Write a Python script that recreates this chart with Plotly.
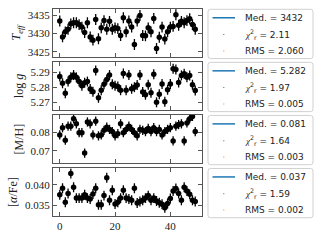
import numpy as np
import plotly.graph_objects as go
from plotly.subplots import make_subplots

# ---------------- data ----------------
epoch = list(range(50))

teff = [3433.5, 3429.1, 3430.5, 3431.2, 3432.7, 3433.0, 3433.0, 3432.5, 3431.8, 3430.3,
        3433.0, 3429.1, 3428.2, 3433.9, 3428.6, 3431.6, 3433.6, 3431.2, 3433.4, 3431.2,
        3431.6, 3431.4, 3429.5, 3434.4, 3430.5, 3433.5, 3431.8, 3427.0, 3433.5, 3435.0,
        3429.5, 3429.4, 3431.6, 3430.5, 3434.2, 3425.9, 3429.0, 3431.8, 3428.5, 3430.5,
        3431.8, 3432.0, 3435.2, 3432.3, 3433.4, 3433.0, 3433.6, 3434.1, 3432.5, 3431.2]

logg = [5.2870, 5.2826, 5.2760, 5.2837, 5.2865, 5.2880, 5.2865, 5.2837, 5.2810, 5.2830,
        5.2837, 5.2788, 5.2770, 5.2910, 5.2730, 5.2780, 5.2820, 5.2850, 5.2880, 5.2820,
        5.2810, 5.2805, 5.2780, 5.2890, 5.2780, 5.2880, 5.2790, 5.2800, 5.2815, 5.2880,
        5.2768, 5.2750, 5.2816, 5.2763, 5.2885, 5.2700, 5.2753, 5.2821, 5.2704, 5.2783,
        5.2821, 5.2922, 5.2917, 5.2831, 5.2878, 5.2888, 5.2866, 5.2878, 5.2816, 5.2778]

mh = [0.0786, 0.0825, 0.0758, 0.0833, 0.0833, 0.0874, 0.0846, 0.0798, 0.0798, 0.0688,
      0.0856, 0.0846, 0.0786, 0.0860, 0.0781, 0.0786, 0.0811, 0.0828, 0.0816, 0.0804,
      0.0781, 0.0793, 0.0846, 0.0798, 0.0816, 0.0833, 0.0816, 0.0798, 0.0781, 0.0816,
      0.0811, 0.0804, 0.0821, 0.0804, 0.0825, 0.0804, 0.0816, 0.0786, 0.0804, 0.0816,
      0.0825, 0.0754, 0.0833, 0.0842, 0.0846, 0.0754, 0.0851, 0.0874, 0.0886, 0.0804]

afe = [0.0376, 0.0392, 0.0358, 0.0379, 0.0427, 0.0394, 0.0368, 0.0368, 0.0368, 0.0376,
       0.0368, 0.0366, 0.0378, 0.0392, 0.0352, 0.0352, 0.0374, 0.0417, 0.0363, 0.0387,
       0.0354, 0.0358, 0.0368, 0.0387, 0.0368, 0.0366, 0.0363, 0.0392, 0.0356, 0.0360,
       0.0363, 0.0368, 0.0374, 0.0363, 0.0368, 0.0361, 0.0357, 0.0353, 0.0345, 0.0355,
       0.0367, 0.0385, 0.0391, 0.0379, 0.0363, 0.0394, 0.0385, 0.0377, 0.0363, 0.0360]

errors = [1.5, 0.0033, 0.0025, 0.0012]

y_titles = ["<i>T</i><sub><i>eff</i></sub>", "log <i>g</i>", "[M/H]", "[<i>α</i>/Fe]"]
y_ticks = [[3425, 3430, 3435], [5.27, 5.28, 5.29], [0.07, 0.08], [0.035, 0.040]]
y_tickfmt = ["d", ".2f", ".2f", ".3f"]
y_ranges = [[3423.6, 3436.8], [5.265, 5.2966], [0.0635, 0.0893], [0.0325, 0.044]]
x_ticks = [0, 20, 40]

med_labels = ["3432", "5.282", "0.081", "0.037"]
chi2_labels = ["2.11", "1.97", "1.64", "1.59"]
rms_labels = ["2.060", "0.005", "0.003", "0.002"]

series = [teff, logg, mh, afe]

# ---------------- figure ----------------
W, H = 320, 240
ML, MR, MT, MB = 53, 118, 8, 22
PW, PH = W - ML - MR, H - MT - MB
GAP = 5.3

fig = make_subplots(rows=4, cols=1, shared_xaxes=True, vertical_spacing=GAP / PH)

serif = "Liberation Serif"
sans = "DejaVu Sans"
frame = "#555555"
blue = "#1f77b4"
orange = "#ff7f0e"

for i, vals in enumerate(series):
    r = i + 1
    fig.add_hline(y=float(np.median(vals)), line=dict(color=blue, width=1.5),
                  layer="below", row=r, col=1)
    fig.add_trace(go.Scatter(
        x=epoch, y=vals, mode="markers",
        marker=dict(color="black", size=5.5),
        error_y=dict(type="constant", value=errors[i], color="black",
                     thickness=1.3, width=0, visible=True),
        showlegend=False, hoverinfo="skip"), row=r, col=1)
    fig.update_yaxes(
        row=r, col=1, range=y_ranges[i], tickvals=y_ticks[i], tickformat=y_tickfmt[i],
        ticks="inside", ticklen=4, tickcolor=frame, showline=True, linecolor=frame,
        linewidth=1, mirror="ticks", showgrid=False, zeroline=False,
        tickfont=dict(family=serif, size=11, color="#222"),
        title=dict(text=y_titles[i], font=dict(family=serif, size=12, color="#222"),
                   standoff=4))
    fig.update_xaxes(
        row=r, col=1, range=[-2.45, 51.45], tickvals=x_ticks,
        ticks="inside", ticklen=4, tickcolor=frame, showline=True, linecolor=frame,
        linewidth=1, mirror="ticks", showgrid=False, zeroline=False,
        tickfont=dict(family=serif, size=11, color="#222"))

# ---------------- per-panel legends (drawn manually) ----------------
def px2x(px):
    return (px - ML) / PW

def py2y(py):
    return (H - MB - py) / PH

panel_h = (PH - 3 * GAP) / 4
lx0, lx1 = 208, 313
rad = 2.5
for i in range(4):
    top = MT + i * (panel_h + GAP) + 0.3
    bot = top + 50
    x0, x1 = px2x(lx0), px2x(lx1)
    y1, y0 = py2y(top), py2y(bot)
    rx, ry = rad / PW, rad / PH
    path = (f"M {x0+rx},{y1} L {x1-rx},{y1} Q {x1},{y1} {x1},{y1-ry} "
            f"L {x1},{y0+ry} Q {x1},{y0} {x1-rx},{y0} L {x0+rx},{y0} "
            f"Q {x0},{y0} {x0},{y0+ry} L {x0},{y1-ry} Q {x0},{y1} {x0+rx},{y1} Z")
    fig.add_shape(type="path", path=path, xref="paper", yref="paper",
                  line=dict(color="#d0d0d0", width=1), fillcolor="white", layer="above")
    rows_y = [top + 8.6, top + 25.6, top + 42.2]
    fig.add_shape(type="line", xref="paper", yref="paper",
                  x0=px2x(212.5), x1=px2x(235), y0=py2y(rows_y[0]), y1=py2y(rows_y[0]),
                  line=dict(color=blue, width=1.5), layer="above")
    for ry_, col in ((rows_y[1], blue), (rows_y[2], orange)):
        fig.add_shape(type="rect", xref="paper", yref="paper",
                      x0=px2x(223.3), x1=px2x(224.3), y0=py2y(ry_ + 0.5), y1=py2y(ry_ - 0.5),
                      line=dict(width=0), fillcolor=col, layer="above")
    texts = [f"Med. = {med_labels[i]}",
             f"<span style='font-family:{serif}'><i>χ</i></span><sup>2</sup><sub>r</sub> = {chi2_labels[i]}",
             f"RMS = {rms_labels[i]}"]
    for t, yy in zip(texts, rows_y):
        fig.add_annotation(text=t, xref="paper", yref="paper", x=px2x(243), y=py2y(yy),
                           xanchor="left", yanchor="middle", showarrow=False,
                           font=dict(family=sans, size=9, color="#222"))

fig.update_layout(width=W, height=H, margin=dict(l=ML, r=MR, t=MT, b=MB),
                  plot_bgcolor="white", paper_bgcolor="white", showlegend=False)

fig.write_html("out.html", config={"displayModeBar": False},
               post_script="document.body.style.margin='0';document.body.style.padding='0';")
